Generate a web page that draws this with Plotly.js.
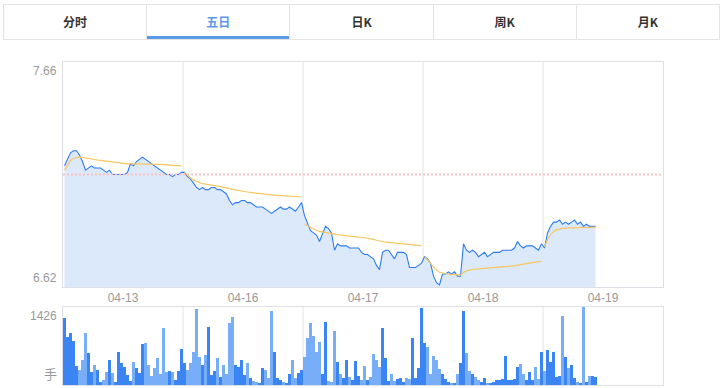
<!DOCTYPE html>
<html><head><meta charset="utf-8">
<script src="https://cdn.plot.ly/plotly-3.0.1.min.js"></script>
<style>
body{margin:0;background:#fff;width:723px;height:388px;overflow:hidden;position:relative;font-family:"Noto Sans CJK SC","Liberation Sans",sans-serif;}
#tabs{position:absolute;left:3px;top:4px;width:717px;height:36px;border:1px solid #e3e3e3;box-sizing:border-box;display:flex;z-index:2;background:#fff}
.tab{flex:1;text-align:center;line-height:34px;font-size:12px;font-weight:bold;color:#333;border-left:1px solid #e3e3e3;position:relative}
.tab:first-child{border-left:none}
.tab.active{color:#5b9ae8}
.tab.active:after{content:"";position:absolute;left:0;right:0;bottom:0;height:3px;background:#5b9ae8}
#chart{position:absolute;left:0;top:0;width:723px;height:388px}
</style></head>
<body>
<div id="chart"></div>
<div id="tabs"></div>
<script>
const tabLabels = ['分时','五日','日K','周K','月K'];
const activeTab = '五日';
const dayLabels = ['04-13','04-16','04-17','04-18','04-19'];
const prevClose = 7.14;
const yMin = 6.62, yMax = 7.66;
const volMax = 1426;
const volUnit = '手';
const pointsPerDay = 40;

const price1 = [7.18,7.21,7.24,7.25,7.25,7.23,7.20,7.16,7.17,7.18,7.17,7.17,7.17,7.16,7.15,7.16,7.14,7.14,7.14,7.14,
                7.14,7.15,7.19,7.18,7.20,7.21,7.22,7.21,7.20,7.19,7.18,7.17,7.16,7.15,7.14,7.14,7.13,7.14,7.14,7.15];
const price2 = [7.15,7.13,7.12,7.10,7.08,7.07,7.08,7.07,7.07,7.08,7.08,7.07,7.07,7.06,7.05,7.02,7.00,7.01,7.01,7.02,
                7.02,7.01,7.01,7.00,6.99,6.99,6.99,6.98,6.97,6.96,6.97,6.98,6.99,6.98,6.98,6.99,6.98,6.97,6.99,7.01];
const price3 = [6.95,6.91,6.88,6.87,6.86,6.83,6.87,6.90,6.89,6.87,6.79,6.82,6.81,6.81,6.81,6.80,6.80,6.80,6.80,6.78,
                6.77,6.77,6.76,6.75,6.72,6.70,6.78,6.79,6.79,6.77,6.75,6.78,6.78,6.78,6.77,6.71,6.71,6.71,6.72,6.73];
const price4 = [6.76,6.75,6.73,6.67,6.64,6.63,6.68,6.68,6.69,6.68,6.69,6.67,6.67,6.82,6.79,6.78,6.79,6.78,6.76,6.77,
                6.78,6.76,6.77,6.78,6.78,6.78,6.79,6.79,6.79,6.79,6.80,6.83,6.81,6.80,6.81,6.81,6.81,6.80,6.79,6.82];
const price5 = [6.80,6.87,6.90,6.92,6.92,6.93,6.91,6.92,6.91,6.92,6.93,6.91,6.92,6.90,6.91,6.90,6.90,6.90];

const avg1 = [7.160,7.185,7.205,7.215,7.218,7.220,7.219,7.216,7.213,7.211,7.209,7.207,7.205,7.203,7.201,7.199,7.197,7.195,7.193,7.191,
              7.190,7.189,7.189,7.189,7.189,7.190,7.190,7.190,7.190,7.190,7.189,7.188,7.187,7.186,7.185,7.184,7.183,7.182,7.181,7.180];
const avg2 = [7.150,7.135,7.125,7.115,7.108,7.102,7.098,7.095,7.092,7.090,7.088,7.086,7.084,7.082,7.079,7.075,7.071,7.068,7.065,7.063,
              7.061,7.059,7.057,7.055,7.053,7.052,7.050,7.049,7.047,7.046,7.045,7.044,7.043,7.042,7.041,7.040,7.039,7.038,7.037,7.036];
const avg3 = [6.910,6.902,6.895,6.888,6.882,6.877,6.874,6.872,6.870,6.868,6.865,6.862,6.860,6.858,6.856,6.855,6.853,6.852,6.851,6.850,
              6.848,6.846,6.843,6.840,6.836,6.832,6.829,6.827,6.826,6.825,6.824,6.823,6.822,6.821,6.820,6.818,6.816,6.814,6.812,6.810];
const avg4 = [6.760,6.745,6.728,6.712,6.698,6.688,6.684,6.681,6.679,6.678,6.677,6.676,6.676,6.688,6.695,6.699,6.701,6.703,6.704,6.705,
              6.706,6.707,6.708,6.709,6.710,6.711,6.712,6.713,6.714,6.716,6.718,6.721,6.723,6.725,6.727,6.729,6.731,6.734,6.737,6.740];
const avg5 = [6.805,6.840,6.862,6.876,6.884,6.889,6.891,6.892,6.893,6.894,6.894,6.895,6.895,6.896,6.896,6.896,6.897,6.897];

const vol1 = [1225,880,950,800,350,270,460,950,585,240,365,270,55,90,240,460,220,60,600,400,
              330,180,80,420,310,220,750,770,365,160,310,495,200,1040,240,250,240,90,250,660];
const vol2 = [400,270,400,600,1390,510,365,550,1060,180,250,495,150,365,200,1130,1240,365,330,460,
              180,400,120,80,60,40,310,270,120,1350,600,120,100,60,40,200,460,120,220,270];
const vol3 = [510,860,1130,895,600,785,200,1150,80,60,985,420,200,120,460,150,100,440,160,90,
              350,100,150,565,460,330,1040,495,80,200,80,110,130,60,130,110,860,120,310,1400];
const vol4 = [770,695,200,530,460,300,200,110,60,40,30,200,400,1350,585,250,200,150,100,60,
              130,40,30,60,90,90,110,530,90,90,110,330,385,200,90,240,100,330,110,600];
const vol5 = [250,640,420,600,150,160,1260,510,310,365,120,60,40,1426,60,170,160,150];

// build tabs
const tabsEl = document.getElementById('tabs');
tabLabels.forEach(t => {
  const d = document.createElement('div');
  d.className = 'tab' + (t === activeTab ? ' active' : '');
  d.textContent = t;
  tabsEl.appendChild(d);
});

const prices = [price1, price2, price3, price4, price5];
const avgs = [avg1, avg2, avg3, avg4, avg5];
const vols = [vol1, vol2, vol3, vol4, vol5];

const px = [], py = [], ax = [], ay = [], vx = [], vy = [], vc = [];
let last = null;
prices.forEach((arr, d) => {
  arr.forEach((p, i) => {
    const x = d * pointsPerDay + i + 0.5;
    px.push(x); py.push(p);
    ax.push(x); ay.push(avgs[d][i]);
    vx.push(x); vy.push(vols[d][i]);
    vc.push(last === null || p >= last ? '#3a84f4' : '#78adf7');
    last = p;
  });
  ax.push(d * pointsPerDay + pointsPerDay); ay.push(null);
});

const traces = [
  {x: px, y: py, type: 'scatter', mode: 'lines', fill: 'tozeroy', fillcolor: '#dce9fa',
   line: {color: '#2b7cf4', width: 1.1}, xaxis: 'x', yaxis: 'y', hoverinfo: 'skip'},
  {x: ax, y: ay, type: 'scatter', mode: 'lines', connectgaps: false,
   line: {color: '#f7c660', width: 1.2}, xaxis: 'x', yaxis: 'y', hoverinfo: 'skip'},
  {x: vx, y: vy, type: 'bar', width: 0.7, marker: {color: vc, line: {width: 0}},
   xaxis: 'x2', yaxis: 'y2', hoverinfo: 'skip'}
];

const nDays = dayLabels.length;
const totalX = nDays * pointsPerDay;
const shapes = [];
for (let d = 1; d < nDays; d++) {
  shapes.push({type: 'line', xref: 'x', yref: 'y', x0: d * pointsPerDay, x1: d * pointsPerDay, y0: yMin, y1: yMax,
               line: {color: '#e1e4e9', width: 1}, layer: 'below'});
  shapes.push({type: 'line', xref: 'x2', yref: 'y2', x0: d * pointsPerDay, x1: d * pointsPerDay, y0: 0, y1: volMax,
               line: {color: '#e1e4e9', width: 1}, layer: 'below'});
}
shapes.push({type: 'line', xref: 'x domain', yref: 'y', x0: 0, x1: 1, y0: prevClose, y1: prevClose,
             line: {color: '#fcc2c2', width: 2, dash: '2px,2px'}, layer: 'above'});

const lblFont = {family: 'Liberation Sans, Arial, sans-serif', size: 12, color: '#999'};
const annotations = [
  {text: yMax.toFixed(2), xref: 'paper', x: 0, xanchor: 'right', xshift: -4, yref: 'y domain', y: 1, yanchor: 'top', showarrow: false, font: lblFont},
  {text: yMin.toFixed(2), xref: 'paper', x: 0, xanchor: 'right', xshift: -4, yref: 'y domain', y: 0, yanchor: 'bottom', showarrow: false, font: lblFont},
  {text: String(volMax), xref: 'paper', x: 0, xanchor: 'right', xshift: -4, yref: 'y2 domain', y: 1, yanchor: 'top', showarrow: false, font: lblFont},
  {text: volUnit, xref: 'paper', x: 0, xanchor: 'right', xshift: -4, yref: 'y2 domain', y: 0, yanchor: 'bottom', showarrow: false,
   font: {family: 'Noto Sans CJK SC, sans-serif', size: 13, color: '#999'}}
];

const axCommon = {showgrid: false, zeroline: false, showline: true, mirror: true, linecolor: '#dde1e7', linewidth: 1, fixedrange: true};
const layout = {
  width: 723, height: 388,
  margin: {l: 63, r: 60, t: 62, b: 3},
  paper_bgcolor: '#fff', plot_bgcolor: '#fff', showlegend: false, bargap: 0,
  xaxis: Object.assign({}, axCommon, {domain: [0, 1], range: [0, totalX], anchor: 'y',
    tickmode: 'array', tickvals: dayLabels.map((_, d) => d * pointsPerDay + pointsPerDay / 2), ticktext: dayLabels,
    ticks: '', ticklen: 0, tickfont: lblFont}),
  yaxis: Object.assign({}, axCommon, {domain: [0.3034, 1], range: [yMin, yMax], anchor: 'x', showticklabels: false, ticks: ''}),
  xaxis2: Object.assign({}, axCommon, {domain: [0, 1], range: [0, totalX], anchor: 'y2', showticklabels: false, ticks: ''}),
  yaxis2: Object.assign({}, axCommon, {domain: [0, 0.2415], range: [0, volMax], anchor: 'x2', showticklabels: false, ticks: ''}),
  shapes: shapes,
  annotations: annotations
};

Plotly.newPlot('chart', traces, layout, {displayModeBar: false, staticPlot: true});
</script>
</body></html>
